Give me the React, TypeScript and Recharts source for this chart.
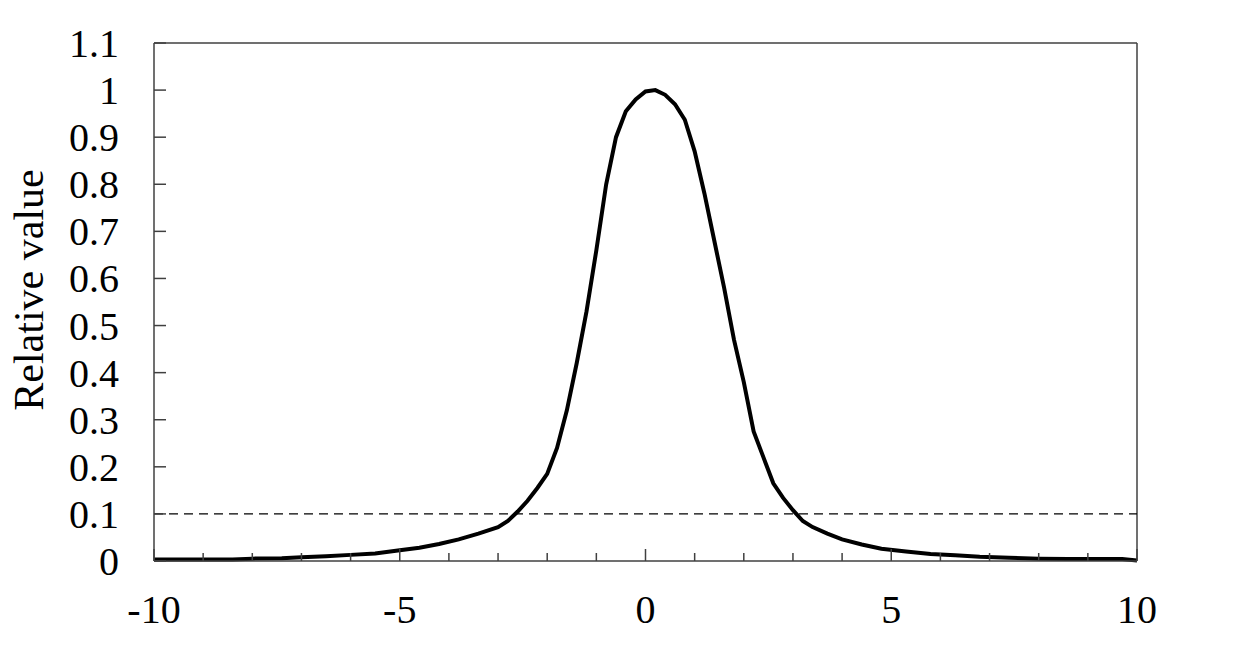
import { LineChart, Line, XAxis, YAxis, ReferenceLine } from 'recharts';

const xValues = [
    -10, -9, -8.4, -8, -7.4, -7, -6.5, -6, -5.5, -5, -4.6, -4.2, -3.8, -3.4, -3.0,
    -2.8, -2.6, -2.4, -2.2, -2.0, -1.8, -1.6, -1.4, -1.2, -1.0, -0.8, -0.6, -0.4,
    -0.2, 0, 0.2, 0.4, 0.6, 0.8, 1.0, 1.2, 1.4, 1.6, 1.8, 2.0, 2.2, 2.4, 2.6, 2.8,
    3.0, 3.2, 3.4, 3.7, 4.0, 4.4, 4.8, 5.3, 5.8, 6.3, 6.8, 7.4, 8.0, 8.6, 9.2, 9.7, 10,
];

const relValues = [
    0.003, 0.003, 0.003, 0.005, 0.006, 0.008, 0.01, 0.013, 0.016, 0.023, 0.028, 0.036,
    0.046, 0.058, 0.072, 0.085, 0.105, 0.128, 0.155, 0.185, 0.24, 0.32, 0.42, 0.53,
    0.66, 0.8, 0.9, 0.955, 0.98, 0.997, 1.0, 0.99, 0.97, 0.937, 0.87, 0.78, 0.68,
    0.58, 0.47, 0.38, 0.275, 0.22, 0.165, 0.134, 0.108, 0.085, 0.072, 0.058, 0.046,
    0.035, 0.026, 0.02, 0.015, 0.012, 0.009, 0.007, 0.005, 0.004, 0.004, 0.004, 0.001,
];

const xTicks = [-10, -9, -8, -7, -6, -5, -4, -3, -2, -1, 0, 1, 2, 3, 4, 5, 6, 7, 8, 9, 10];
const yTicks = [0, 0.1, 0.2, 0.3, 0.4, 0.5, 0.6, 0.7, 0.8, 0.9, 1, 1.1];
const threshold = 0.1;

const data = xValues.map((x, i) => ({ x, y: relValues[i] }));

const FONT = '"Liberation Serif", "Times New Roman", serif';
const AXIS = '#404040';

function XTick({ x, y, payload }: any) {
    const major = payload.value % 5 === 0;
    return (
        <g>
            <line x1={x} y1={y} x2={x} y2={y - (major ? 12 : 8)} stroke={AXIS} strokeWidth={1.5} />
            {major && (
                <text x={x} y={y + 62} textAnchor="middle" fontFamily={FONT} fontSize={40} fill="#000">
                    {payload.value}
                </text>
            )}
        </g>
    );
}

function YTick({ x, y, payload }: any) {
    return (
        <g>
            <line x1={x} y1={y} x2={x + 12} y2={y} stroke={AXIS} strokeWidth={1.5} />
            <text x={x - 35} y={y + 14} textAnchor="end" fontFamily={FONT} fontSize={40} fill="#000">
                {String(payload.value)}
            </text>
        </g>
    );
}

export default function App() {
    return (
        <div style={{ position: 'absolute', left: 0, top: 0, width: 1251, height: 646, background: '#fff' }}>
            <LineChart
                width={1251}
                height={646}
                data={data}
                margin={{ top: 43, right: 114, left: 94, bottom: 45 }}
            >
                <XAxis
                    type="number"
                    dataKey="x"
                    domain={[-10, 10]}
                    ticks={xTicks}
                    interval={0}
                    tickSize={0}
                    tickMargin={0}
                    height={40}
                    axisLine={{ stroke: AXIS, strokeWidth: 1.5 }}
                    tickLine={false}
                    tick={<XTick />}
                />
                <YAxis
                    type="number"
                    domain={[0, 1.1]}
                    ticks={yTicks}
                    interval={0}
                    tickSize={0}
                    tickMargin={0}
                    width={60}
                    axisLine={{ stroke: AXIS, strokeWidth: 1.5 }}
                    tickLine={false}
                    tick={<YTick />}
                />
                <ReferenceLine y={1.1} stroke={AXIS} strokeWidth={1.5} />
                <ReferenceLine x={10} stroke={AXIS} strokeWidth={1.5} />
                <ReferenceLine y={threshold} stroke="#000" strokeWidth={1.2} strokeDasharray="9 6" />
                <Line
                    type="linear"
                    dataKey="y"
                    stroke="#000"
                    strokeWidth={4}
                    dot={false}
                    activeDot={false}
                    isAnimationActive={false}
                />
            </LineChart>
            <div
                style={{
                    position: 'absolute',
                    left: 29,
                    top: 290,
                    transform: 'translate(-50%, -50%) rotate(-90deg)',
                    fontFamily: FONT,
                    fontSize: 42,
                    lineHeight: '48px',
                    whiteSpace: 'nowrap',
                    color: '#000',
                }}
            >
                Relative value
            </div>
        </div>
    );
}
